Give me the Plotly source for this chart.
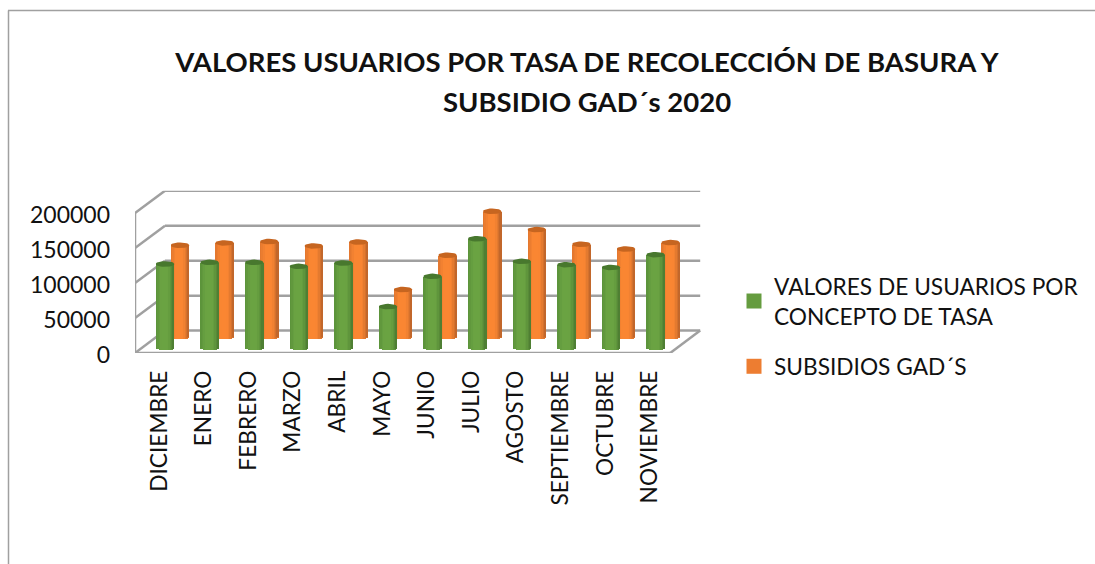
import math
import plotly.graph_objects as go

categories = ["DICIEMBRE", "ENERO", "FEBRERO", "MARZO", "ABRIL", "MAYO", "JUNIO",
              "JULIO", "AGOSTO", "SEPTIEMBRE", "OCTUBRE", "NOVIEMBRE"]
valores_usuarios = [119000, 121300, 121300, 115600, 120400, 58000, 101300,
                    155100, 122700, 118000, 114100, 132300]
subsidios_gad = [129800, 133100, 135100, 128800, 134500, 66500, 115500,
                 178300, 152200, 131200, 124500, 133600]
y_ticks = [0, 50000, 100000, 150000, 200000]
name_a = "VALORES DE USUARIOS POR<br>CONCEPTO DE TASA"
name_b = "SUBSIDIOS GAD´S"
title_line_1 = "VALORES USUARIOS POR TASA DE RECOLECCIÓN DE BASURA Y"
title_line_2 = "SUBSIDIO GAD´s 2020"

W, H = 1095, 564
FONT = "Lato"
PX_X = 44.6           # px per category
PX_Y = 140 / 200000   # px per value unit
DX = 30 / PX_X        # wall depth in category units
DY = 22.4 / PX_Y      # wall depth in value units
GRID = "#a0a0a0"
RX = 9.3 / PX_X
RY = 2.8 / PX_Y
N_STRIPS = 12


def lerp(c1, c2, t):
    return "rgb(" + ",".join(str(round(a + (b - a) * t)) for a, b in zip(c1, c2)) + ")"


def shade(t, left, peak, right):
    if t < 0.3:
        return lerp(left, peak, t / 0.3)
    if t < 0.6:
        return lerp(peak, peak, 0)
    return lerp(peak, right, ((t - 0.6) / 0.4) ** 1.5)


def cylinder_traces(values, depth, left, peak, right, cap, xa, ya):
    xs = [i + depth * DX for i in range(len(values))]
    floor = depth * DY
    traces = []
    step = 2 * RX / N_STRIPS
    for k in range(N_STRIPS):
        t = (k + 0.5) / N_STRIPS
        u = 2 * t - 1
        bulge = RY * math.sqrt(1 - u * u)
        traces.append(go.Bar(
            x=xs, y=[v + bulge for v in values], base=[floor - bulge] * len(values),
            offset=-RX + k * step, width=2 * step if k < N_STRIPS - 1 else step,
            marker=dict(color=shade(t, left, peak, right), line=dict(width=0)),
            showlegend=False, hoverinfo="skip", xaxis=xa, yaxis=ya))
    cx, cy = [], []
    for x, v in zip(xs, values):
        for a in range(0, 361, 15):
            cx.append(x + RX * math.cos(math.radians(a)))
            cy.append(floor + v + RY * math.sin(math.radians(a)))
        cx.append(None)
        cy.append(None)
    traces.append(go.Scatter(x=cx, y=cy, mode="lines", fill="toself", fillcolor=cap,
                             line=dict(width=0, color=cap), showlegend=False,
                             hoverinfo="skip", xaxis=xa, yaxis=ya))
    return traces


fig = go.Figure()
for tr in cylinder_traces(subsidios_gad, 0.757, (224, 118, 46), (250, 134, 50),
                          (184, 98, 42), "rgb(198,101,32)", "x", "y"):
    fig.add_trace(tr)
for tr in cylinder_traces(valores_usuarios, 0.257, (90, 145, 58), (106, 163, 66),
                          (74, 120, 48), "rgb(72,120,46)", "x2", "y2"):
    fig.add_trace(tr)

for nm, col in ((name_a, "#659c3f"), (name_b, "#ed7d31")):
    fig.add_trace(go.Scatter(x=[None], y=[None], mode="markers", name=nm, legendgroup=nm,
                             marker=dict(symbol="square", size=15, color=col)))

shapes = []
n = len(categories)
left_x, right_x = -0.5, n - 0.5


def seg(x0, y0, x1, y1):
    shapes.append(dict(type="line", xref="x", yref="y", x0=x0, y0=y0, x1=x1, y1=y1,
                       layer="below", line=dict(color=GRID, width=2.5)))


for t in y_ticks:
    seg(left_x, t, left_x + DX, t + DY)
    seg(left_x + DX, t + DY, right_x + DX, t + DY)
seg(left_x, 0, left_x, y_ticks[-1])
seg(left_x, 0, right_x, 0)
seg(right_x, 0, right_x + DX, DY)
# outer frame of the picture
shapes.append(dict(type="line", xref="paper", yref="paper", x0=8.5 / W, x1=8.5 / W,
                   y0=0, y1=1 - 10.5 / H, line=dict(color="#a0a0a0", width=1.5)))
shapes.append(dict(type="line", xref="paper", yref="paper", x0=8 / W, x1=1,
                   y0=1 - 10.5 / H, y1=1 - 10.5 / H, line=dict(color="#a0a0a0", width=1.5)))

xr = [left_x, (701 - 157.3) / PX_X]
yr = [0, y_ticks[-1] + DY]
dom_x = [135 / W, 701 / W]
dom_y = [1 - 353 / H, 1 - 190.7 / H]
TITLE_FONT = dict(family=FONT, size=27.5, color="#111111", weight="bold")

fig.update_layout(
    width=W, height=H, autosize=False,
    margin=dict(l=0, r=0, t=0, b=0, autoexpand=False),
    paper_bgcolor="white", plot_bgcolor="rgba(0,0,0,0)",
    barmode="overlay", bargap=0,
    font=dict(family=FONT, color="#111111"),
    title=dict(text=title_line_1, x=587 / W, xanchor="center", y=1 - 62 / H, yanchor="middle",
               font=TITLE_FONT),
    annotations=[dict(text=title_line_2, xref="paper", yref="paper", x=587 / W, y=1 - 102 / H,
                      xanchor="center", yanchor="middle", showarrow=False, font=TITLE_FONT)],
    xaxis=dict(domain=dom_x, range=xr, tickmode="array", tickvals=list(range(n)),
               ticktext=categories, tickangle=-90, showgrid=False, zeroline=False,
               showline=False, ticks="", ticklabelstandoff=12, ticklabelshift=2, automargin=False,
               tickfont=dict(family=FONT, size=22.7, color="#111111")),
    yaxis=dict(domain=dom_y, range=yr, tickmode="array", tickvals=y_ticks,
               showgrid=False, zeroline=False, showline=False, ticks="",
               ticklabelstandoff=24, ticklabelshift=2, tickformat="d", automargin=False,
               tickfont=dict(family=FONT, size=23, color="#111111")),
    xaxis2=dict(domain=dom_x, range=xr, overlaying="x", visible=False, anchor="y2", automargin=False),
    yaxis2=dict(domain=dom_y, range=yr, overlaying="y", visible=False, anchor="x2", automargin=False),
    legend=dict(x=734 / W, y=1 - 265 / H, xanchor="left", yanchor="top",
                font=dict(family=FONT, size=22.7, color="#111111"),
                tracegroupgap=18, itemclick=False, itemdoubleclick=False,
                bgcolor="rgba(0,0,0,0)"),
    shapes=shapes,
)

fig.write_html("out.html", config=dict(displayModeBar=False),
               post_script="document.body.style.margin='0';document.body.style.overflow='hidden';")
